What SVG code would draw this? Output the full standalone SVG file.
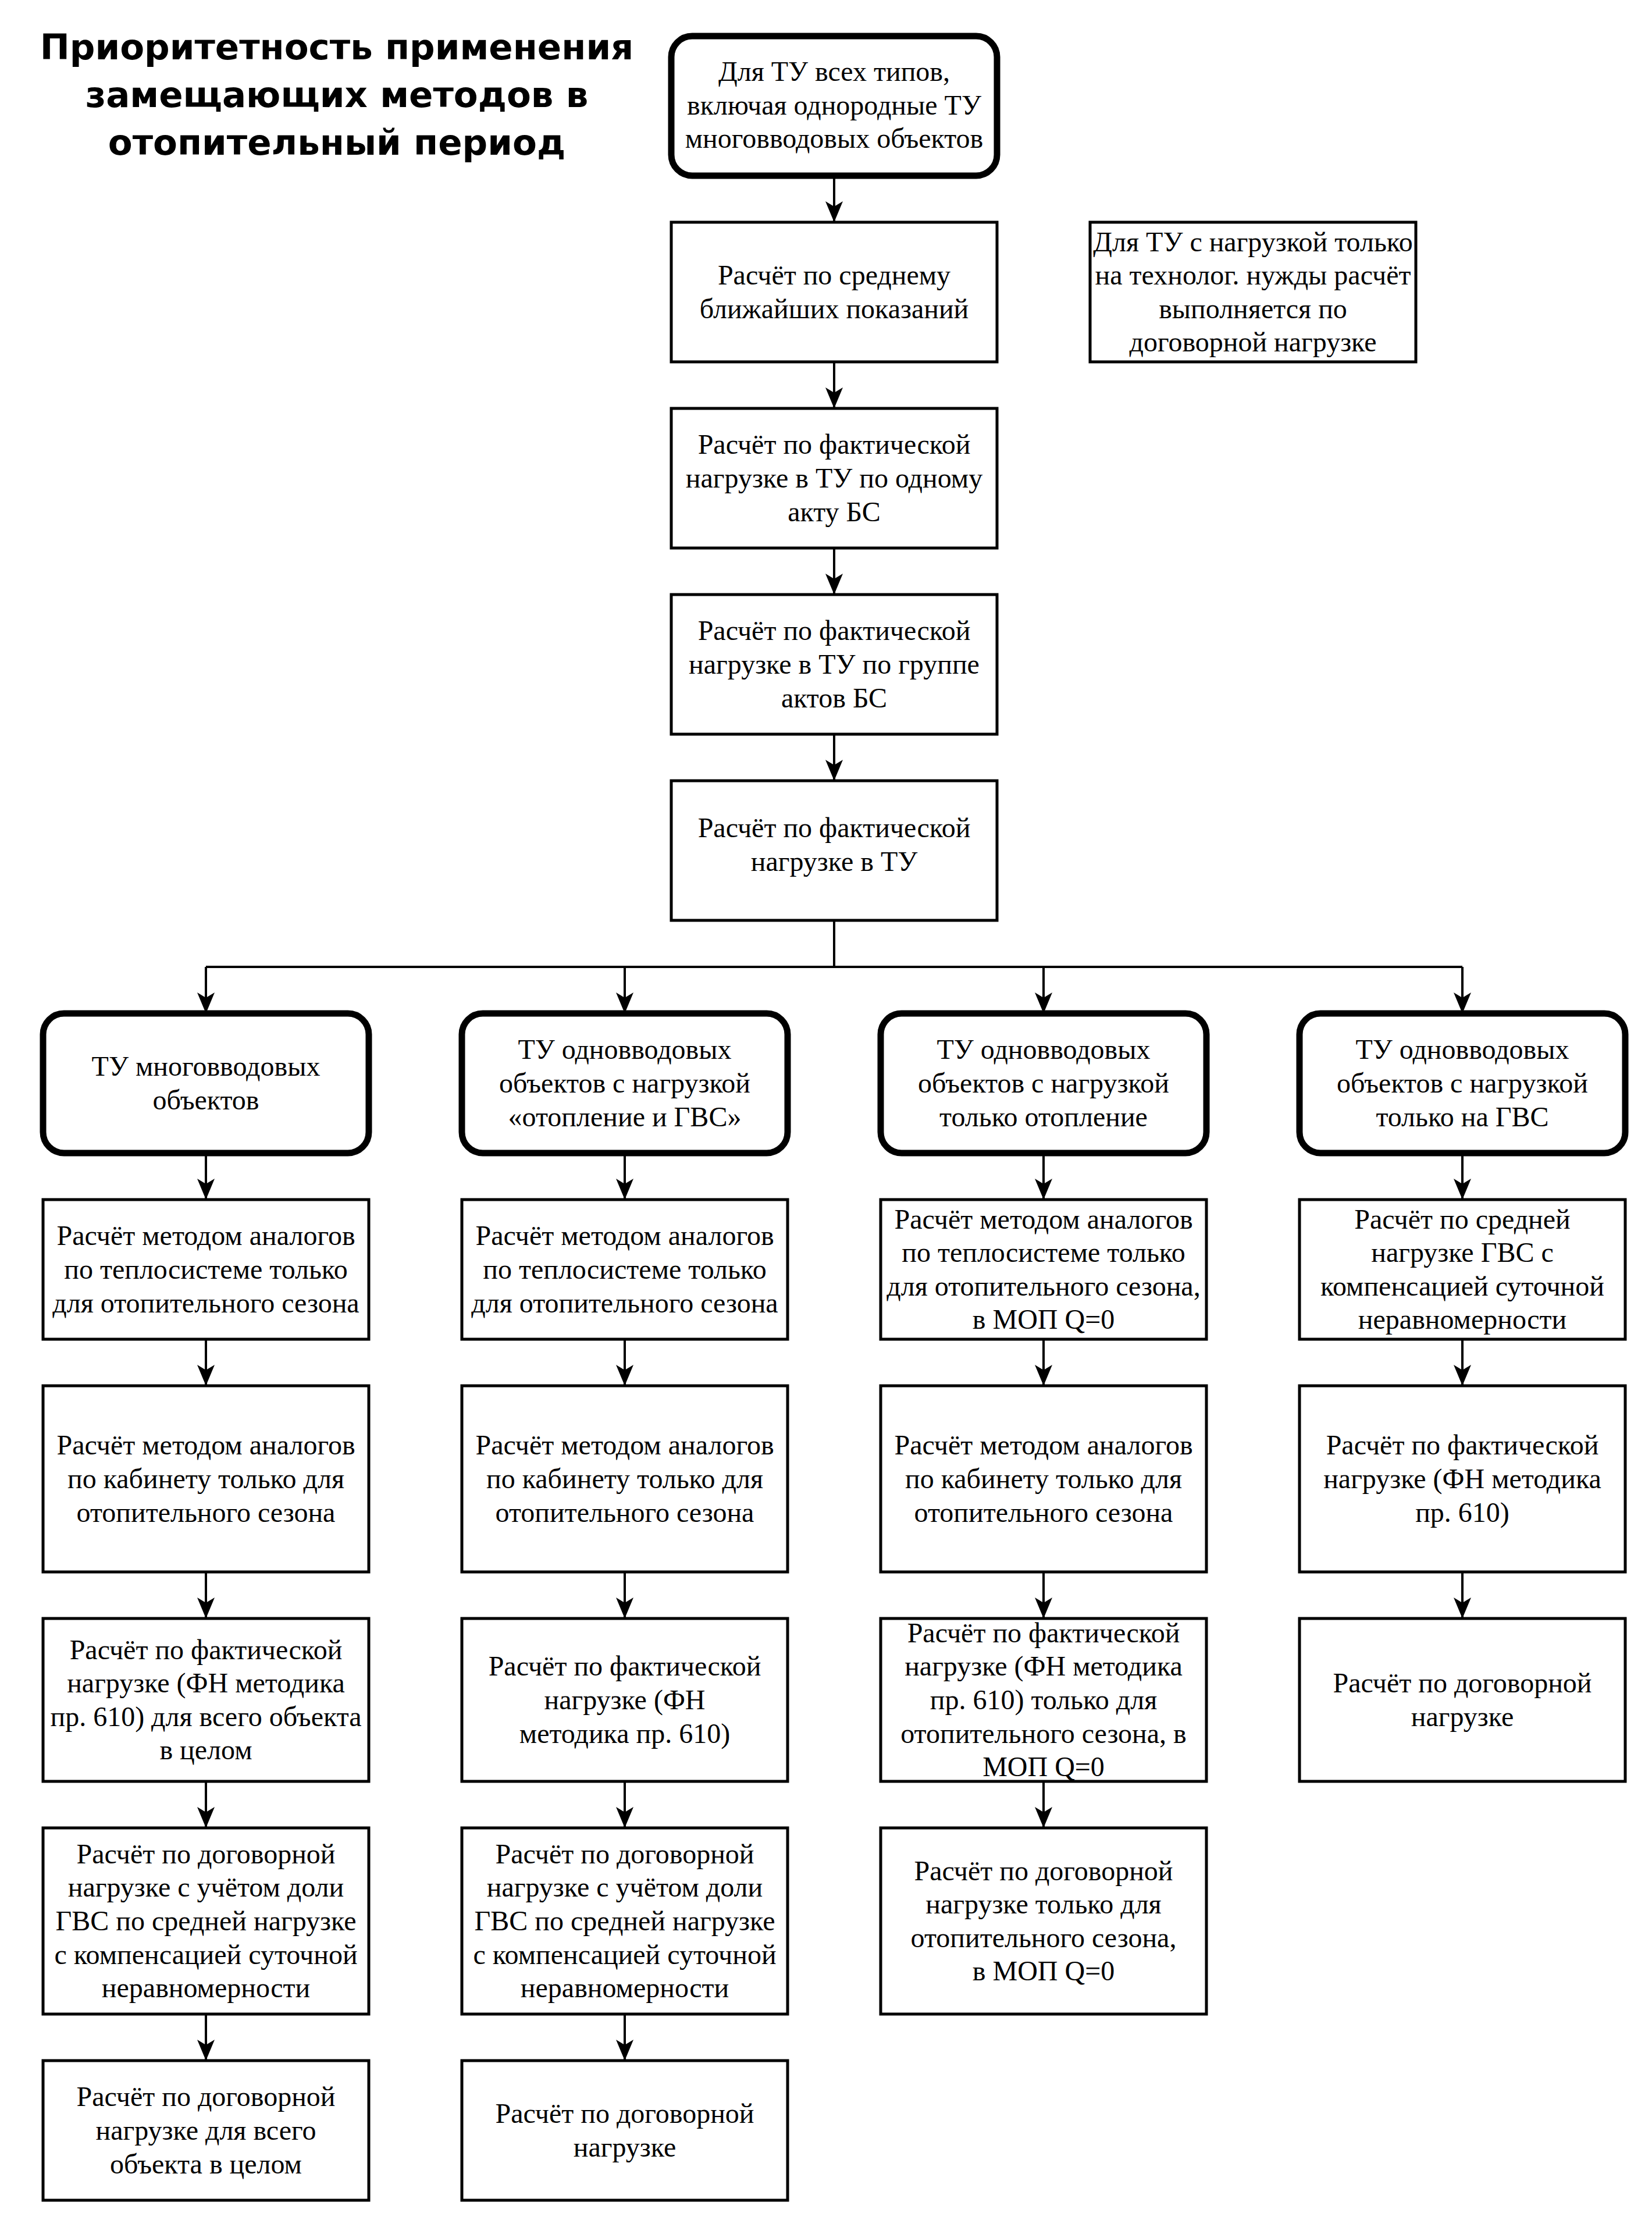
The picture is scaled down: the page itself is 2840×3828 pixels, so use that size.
<svg xmlns="http://www.w3.org/2000/svg" width="2840" height="3828" viewBox="0 0 2840 3828">
<style>
  .box { fill: #ffffff; stroke: #000000; stroke-width: 5; }
  .hdr { fill: #ffffff; stroke: #000000; stroke-width: 11; }
  .t { font-family: "Liberation Serif", "Times New Roman", serif; font-size: 48px; fill: #000000; text-anchor: middle; }
  .title { font-family: "DejaVu Sans", Verdana, sans-serif; font-weight: bold; font-size: 61px; fill: #000000; text-anchor: middle; }
  .c { fill: none; stroke: #000000; stroke-width: 4; }
  .ca { fill: none; stroke: #000000; stroke-width: 4; marker-end: url(#arr); }
</style>
<defs>
  <marker id="arr" viewBox="0 0 36 30" refX="36" refY="15" markerWidth="36" markerHeight="30" markerUnits="userSpaceOnUse" orient="auto">
    <path d="M0,0 L36,15 L0,30 L9,15 Z" fill="#000000"/>
  </marker>
</defs>
<rect width="2840" height="3828" fill="#ffffff"/>

<g id="title">
  <text class="title"><tspan x="579" y="102">Приоритетность применения</tspan><tspan x="579" y="184">замещающих методов в</tspan><tspan x="579" y="266">отопительный период</tspan></text>
</g>

<g id="connectors">
  <path class="ca" d="M1434,302 L1434,382"/>
  <path class="ca" d="M1434,622 L1434,702"/>
  <path class="ca" d="M1434,942 L1434,1022"/>
  <path class="ca" d="M1434,1262 L1434,1342"/>
  <path class="c" d="M1434,1582 L1434,1662 M354,1662 L2514,1662"/>
  <path class="ca" d="M354,1662 L354,1742"/>
  <path class="ca" d="M1074,1662 L1074,1742"/>
  <path class="ca" d="M1794,1662 L1794,1742"/>
  <path class="ca" d="M2514,1662 L2514,1742"/>
  <!-- column 1 -->
  <path class="ca" d="M354,1982 L354,2062"/>
  <path class="ca" d="M354,2302 L354,2382"/>
  <path class="ca" d="M354,2702 L354,2782"/>
  <path class="ca" d="M354,3062 L354,3142"/>
  <path class="ca" d="M354,3462 L354,3542"/>
  <!-- column 2 -->
  <path class="ca" d="M1074,1982 L1074,2062"/>
  <path class="ca" d="M1074,2302 L1074,2382"/>
  <path class="ca" d="M1074,2702 L1074,2782"/>
  <path class="ca" d="M1074,3062 L1074,3142"/>
  <path class="ca" d="M1074,3462 L1074,3542"/>
  <!-- column 3 -->
  <path class="ca" d="M1794,1982 L1794,2062"/>
  <path class="ca" d="M1794,2302 L1794,2382"/>
  <path class="ca" d="M1794,2702 L1794,2782"/>
  <path class="ca" d="M1794,3062 L1794,3142"/>
  <!-- column 4 -->
  <path class="ca" d="M2514,1982 L2514,2062"/>
  <path class="ca" d="M2514,2302 L2514,2382"/>
  <path class="ca" d="M2514,2702 L2514,2782"/>
</g>

<!-- main column -->
<g id="n-start">
  <rect class="hdr" x="1154" y="62" width="560" height="240" rx="36" ry="36"/>
  <text class="t"><tspan x="1434" y="139">Для ТУ всех типов,</tspan><tspan x="1434" y="196.6">включая однородные ТУ</tspan><tspan x="1434" y="254.2">многовводовых объектов</tspan></text>
</g>
<g id="n-avg">
  <rect class="box" x="1154" y="382" width="560" height="240"/>
  <text class="t"><tspan x="1434" y="489.2">Расчёт по среднему</tspan><tspan x="1434" y="546.8">ближайших показаний</tspan></text>
</g>
<g id="n-fact1">
  <rect class="box" x="1154" y="702" width="560" height="240"/>
  <text class="t"><tspan x="1434" y="780.4">Расчёт по фактической</tspan><tspan x="1434" y="838">нагрузке в ТУ по одному</tspan><tspan x="1434" y="895.6">акту БС</tspan></text>
</g>
<g id="n-fact2">
  <rect class="box" x="1154" y="1022" width="560" height="240"/>
  <text class="t"><tspan x="1434" y="1100.4">Расчёт по фактической</tspan><tspan x="1434" y="1158">нагрузке в ТУ по группе</tspan><tspan x="1434" y="1215.6">актов БС</tspan></text>
</g>
<g id="n-fact3">
  <rect class="box" x="1154" y="1342" width="560" height="240"/>
  <text class="t"><tspan x="1434" y="1439.2">Расчёт по фактической</tspan><tspan x="1434" y="1496.8">нагрузке в ТУ</tspan></text>
</g>
<g id="n-note">
  <rect class="box" x="1874" y="382" width="560" height="240"/>
  <text class="t"><tspan x="2154" y="431.6">Для ТУ с нагрузкой только</tspan><tspan x="2154" y="489.2">на технолог. нужды расчёт</tspan><tspan x="2154" y="546.8">выполняется по</tspan><tspan x="2154" y="604.4">договорной нагрузке</tspan></text>
</g>

<!-- column 1 -->
<g id="c1-h">
  <rect class="hdr" x="74" y="1742" width="560" height="240" rx="36" ry="36"/>
  <text class="t"><tspan x="354" y="1849.2">ТУ многовводовых</tspan><tspan x="354" y="1906.8">объектов</tspan></text>
</g>
<g id="c1-r1">
  <rect class="box" x="74" y="2062" width="560" height="240"/>
  <text class="t"><tspan x="354" y="2140.4">Расчёт методом аналогов</tspan><tspan x="354" y="2198">по теплосистеме только</tspan><tspan x="354" y="2255.6">для отопительного сезона</tspan></text>
</g>
<g id="c1-r2">
  <rect class="box" x="74" y="2382" width="560" height="320"/>
  <text class="t"><tspan x="354" y="2500.4">Расчёт методом аналогов</tspan><tspan x="354" y="2558">по кабинету только для</tspan><tspan x="354" y="2615.6">отопительного сезона</tspan></text>
</g>
<g id="c1-r3">
  <rect class="box" x="74" y="2782" width="560" height="280"/>
  <text class="t"><tspan x="354" y="2851.6">Расчёт по фактической</tspan><tspan x="354" y="2909.2">нагрузке (ФН методика</tspan><tspan x="354" y="2966.8">пр. 610) для всего объекта</tspan><tspan x="354" y="3024.4">в целом</tspan></text>
</g>
<g id="c1-r4">
  <rect class="box" x="74" y="3142" width="560" height="320"/>
  <text class="t"><tspan x="354" y="3202.8">Расчёт по договорной</tspan><tspan x="354" y="3260.4">нагрузке с учётом доли</tspan><tspan x="354" y="3318">ГВС по средней нагрузке</tspan><tspan x="354" y="3375.6">с компенсацией суточной</tspan><tspan x="354" y="3433.2">неравномерности</tspan></text>
</g>
<g id="c1-r5">
  <rect class="box" x="74" y="3542" width="560" height="240"/>
  <text class="t"><tspan x="354" y="3620.4">Расчёт по договорной</tspan><tspan x="354" y="3678">нагрузке для всего</tspan><tspan x="354" y="3735.6">объекта в целом</tspan></text>
</g>

<!-- column 2 -->
<g id="c2-h">
  <rect class="hdr" x="794" y="1742" width="560" height="240" rx="36" ry="36"/>
  <text class="t"><tspan x="1074" y="1820.4">ТУ одновводовых</tspan><tspan x="1074" y="1878">объектов с нагрузкой</tspan><tspan x="1074" y="1935.6">«отопление и ГВС»</tspan></text>
</g>
<g id="c2-r1">
  <rect class="box" x="794" y="2062" width="560" height="240"/>
  <text class="t"><tspan x="1074" y="2140.4">Расчёт методом аналогов</tspan><tspan x="1074" y="2198">по теплосистеме только</tspan><tspan x="1074" y="2255.6">для отопительного сезона</tspan></text>
</g>
<g id="c2-r2">
  <rect class="box" x="794" y="2382" width="560" height="320"/>
  <text class="t"><tspan x="1074" y="2500.4">Расчёт методом аналогов</tspan><tspan x="1074" y="2558">по кабинету только для</tspan><tspan x="1074" y="2615.6">отопительного сезона</tspan></text>
</g>
<g id="c2-r3">
  <rect class="box" x="794" y="2782" width="560" height="280"/>
  <text class="t"><tspan x="1074" y="2880.4">Расчёт по фактической</tspan><tspan x="1074" y="2938">нагрузке (ФН</tspan><tspan x="1074" y="2995.6">методика пр. 610)</tspan></text>
</g>
<g id="c2-r4">
  <rect class="box" x="794" y="3142" width="560" height="320"/>
  <text class="t"><tspan x="1074" y="3202.8">Расчёт по договорной</tspan><tspan x="1074" y="3260.4">нагрузке с учётом доли</tspan><tspan x="1074" y="3318">ГВС по средней нагрузке</tspan><tspan x="1074" y="3375.6">с компенсацией суточной</tspan><tspan x="1074" y="3433.2">неравномерности</tspan></text>
</g>
<g id="c2-r5">
  <rect class="box" x="794" y="3542" width="560" height="240"/>
  <text class="t"><tspan x="1074" y="3649.2">Расчёт по договорной</tspan><tspan x="1074" y="3706.8">нагрузке</tspan></text>
</g>

<!-- column 3 -->
<g id="c3-h">
  <rect class="hdr" x="1514" y="1742" width="560" height="240" rx="36" ry="36"/>
  <text class="t"><tspan x="1794" y="1820.4">ТУ одновводовых</tspan><tspan x="1794" y="1878">объектов с нагрузкой</tspan><tspan x="1794" y="1935.6">только отопление</tspan></text>
</g>
<g id="c3-r1">
  <rect class="box" x="1514" y="2062" width="560" height="240"/>
  <text class="t"><tspan x="1794" y="2111.6">Расчёт методом аналогов</tspan><tspan x="1794" y="2169.2">по теплосистеме только</tspan><tspan x="1794" y="2226.8">для отопительного сезона,</tspan><tspan x="1794" y="2284.4">в МОП Q=0</tspan></text>
</g>
<g id="c3-r2">
  <rect class="box" x="1514" y="2382" width="560" height="320"/>
  <text class="t"><tspan x="1794" y="2500.4">Расчёт методом аналогов</tspan><tspan x="1794" y="2558">по кабинету только для</tspan><tspan x="1794" y="2615.6">отопительного сезона</tspan></text>
</g>
<g id="c3-r3">
  <rect class="box" x="1514" y="2782" width="560" height="280"/>
  <text class="t"><tspan x="1794" y="2822.8">Расчёт по фактической</tspan><tspan x="1794" y="2880.4">нагрузке (ФН методика</tspan><tspan x="1794" y="2938">пр. 610) только для</tspan><tspan x="1794" y="2995.6">отопительного сезона, в</tspan><tspan x="1794" y="3053.2">МОП Q=0</tspan></text>
</g>
<g id="c3-r4">
  <rect class="box" x="1514" y="3142" width="560" height="320"/>
  <text class="t"><tspan x="1794" y="3231.6">Расчёт по договорной</tspan><tspan x="1794" y="3289.2">нагрузке только для</tspan><tspan x="1794" y="3346.8">отопительного сезона,</tspan><tspan x="1794" y="3404.4">в МОП Q=0</tspan></text>
</g>

<!-- column 4 -->
<g id="c4-h">
  <rect class="hdr" x="2234" y="1742" width="560" height="240" rx="36" ry="36"/>
  <text class="t"><tspan x="2514" y="1820.4">ТУ одновводовых</tspan><tspan x="2514" y="1878">объектов с нагрузкой</tspan><tspan x="2514" y="1935.6">только на ГВС</tspan></text>
</g>
<g id="c4-r1">
  <rect class="box" x="2234" y="2062" width="560" height="240"/>
  <text class="t"><tspan x="2514" y="2111.6">Расчёт по средней</tspan><tspan x="2514" y="2169.2">нагрузке ГВС с</tspan><tspan x="2514" y="2226.8">компенсацией суточной</tspan><tspan x="2514" y="2284.4">неравномерности</tspan></text>
</g>
<g id="c4-r2">
  <rect class="box" x="2234" y="2382" width="560" height="320"/>
  <text class="t"><tspan x="2514" y="2500.4">Расчёт по фактической</tspan><tspan x="2514" y="2558">нагрузке (ФН методика</tspan><tspan x="2514" y="2615.6">пр. 610)</tspan></text>
</g>
<g id="c4-r3">
  <rect class="box" x="2234" y="2782" width="560" height="280"/>
  <text class="t"><tspan x="2514" y="2909.2">Расчёт по договорной</tspan><tspan x="2514" y="2966.8">нагрузке</tspan></text>
</g>
</svg>
